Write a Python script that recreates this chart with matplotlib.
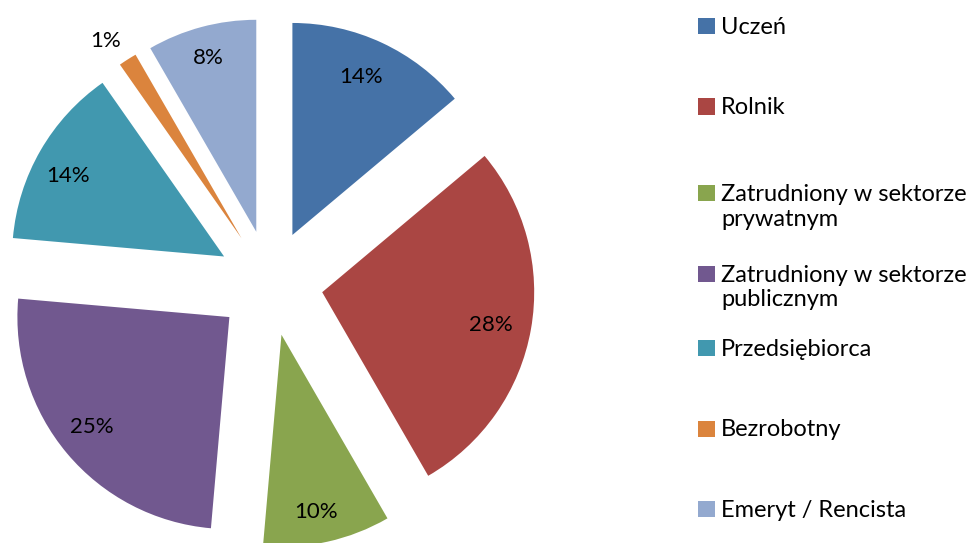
import numpy as np
import matplotlib
matplotlib.use("Agg")
import matplotlib.pyplot as plt
from matplotlib.patches import Rectangle

plt.rcParams['font.family'] = ['Lato', 'DejaVu Sans']

categories = ['Uczeń', 'Rolnik', 'Zatrudniony w sektorze\nprywatnym',
              'Zatrudniony w sektorze\npublicznym', 'Przedsiębiorca',
              'Bezrobotny', 'Emeryt / Rencista']
counts = [10, 20, 7, 18, 10, 1, 6]
colors = ['#4572A7', '#AA4643', '#89A54E', '#71588F', '#4198AF', '#DB843D', '#93A9CF']

W, H = 976, 543
R = 212.0  # pie radius in px
cx, cy = 270.0, 260.0  # pie centre in px from bottom-left

fig = plt.figure(figsize=(W / 100, H / 100), dpi=100)
ax = fig.add_axes([0, 0, 1, 1])

wedges, texts, autotexts = ax.pie(
    counts, colors=colors, startangle=90, counterclock=False,
    explode=[0.25] * len(counts), radius=1.0, autopct='%.0f%%',
    pctdistance=0.82, wedgeprops=dict(linewidth=0),
    textprops=dict(fontsize=16, color='black'))

# label placement from each wedge's tip (Excel "best fit"-like)
label_dist = [0.81, 0.81, 0.85, 0.83, 0.83, 1.13, 0.85]
label_rot = [1.5, -1.0, -1.5, -1.5, 2.7, 2.2, 0.5]
for w, t, d, r in zip(wedges, autotexts, label_dist, label_rot):
    ang = np.deg2rad((w.theta1 + w.theta2) / 2 + r)
    x0, y0 = w.center
    t.set_position((x0 + d * np.cos(ang), y0 + d * np.sin(ang)))
    t.set_ha('center')
    t.set_va('center')

ax.set_aspect('auto')
ax.set_xlim(-cx / R, (W - cx) / R)
ax.set_ylim(-cy / R, (H - cy) / R)
ax.axis('off')

# legend, drawn in pixel coordinates (y from top)
slot0, slot_step = 26, 80.5
for i, (lab, col) in enumerate(zip(categories, colors)):
    lines = lab.split('\n')
    yc = slot0 + slot_step * i + (6 if len(lines) > 1 else 0)
    fig.patches.append(Rectangle((698 / W, (H - yc - 8) / H), 17 / W, 16 / H,
                                 transform=fig.transFigure, facecolor=col,
                                 edgecolor='none'))
    for k, line in enumerate(lines):
        fig.text(721 / W, (H - (yc + 8 + 25 * k)) / H, line, fontsize=17,
                 ha='left', va='baseline')

fig.savefig('out.png', dpi=100, facecolor='white')
